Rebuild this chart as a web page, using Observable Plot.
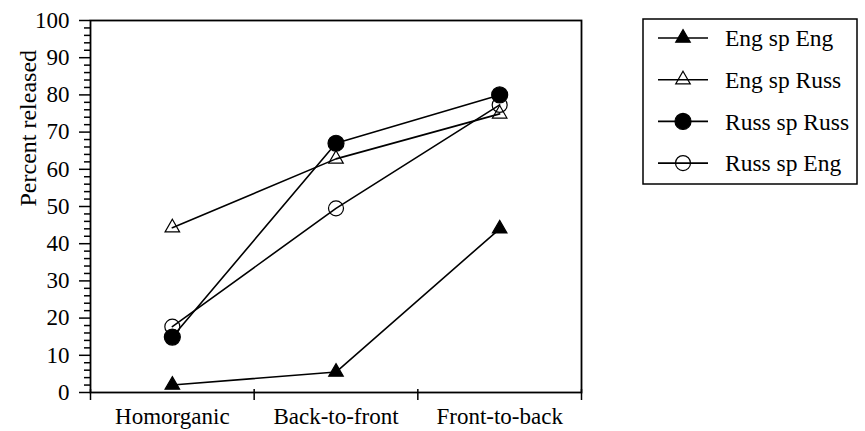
<!DOCTYPE html>
<html>
<head>
<meta charset="utf-8">
<script src="https://cdn.jsdelivr.net/npm/d3@7"></script>
<script src="https://cdn.jsdelivr.net/npm/@observablehq/plot@0.6"></script>
<style>
  body { margin: 0; background: #fff; }
  svg text { font-family: "Liberation Serif", "Times New Roman", serif; }
</style>
</head>
<body>
<div id="chartRoot"></div>
<script>
const categories = ["Homorganic", "Back-to-front", "Front-to-back"];
const seriesNames = ["Eng sp Eng", "Eng sp Russ", "Russ sp Russ", "Russ sp Eng"];
const engSpEng   = [2, 5.5, 44];
const engSpRuss  = [44.3, 62.8, 74.9];
const russSpRuss = [14.9, 67, 80];
const russSpEng  = [17.7, 49.5, 77.3];
const yTicks = [0, 10, 20, 30, 40, 50, 60, 70, 80, 90, 100];

(function () {
  const fontName = "Liberation Serif";
  const width = 865, height = 431, ml = 90, mr = 284, mt = 20, mb = 39;
  const fw = width - ml - mr, fh = height - mt - mb;

  const seriesValues = [engSpEng, engSpRuss, russSpRuss, russSpEng];
  const dataRows = [];
  seriesNames.forEach((s, si) => seriesValues[si].forEach((v, ci) => dataRows.push({series: s, cat: ci + 0.5, value: v})));

  const seriesLook = {
    "Eng sp Eng":   {symbol: "triangle", fill: "black", r: 5.4},
    "Eng sp Russ":  {symbol: "triangle", fill: "none",  r: 5.4},
    "Russ sp Russ": {symbol: "circle",   fill: "black", r: 8},
    "Russ sp Eng":  {symbol: "circle",   fill: "none",  r: 7.5}
  };

  const minorTicks = d3.range(0, 101, 2).filter(d => d % 10 !== 0);
  const plotMarks = [
    Plot.ruleY(minorTicks, {stroke: "black", strokeWidth: 1.5, insetLeft: -6, insetRight: fw}),
    Plot.ruleY(yTicks, {stroke: "black", strokeWidth: 1.5, insetLeft: -11, insetRight: fw}),
    Plot.ruleX([0, 1, 2, 3], {stroke: "black", strokeWidth: 1.5, insetTop: fh - 3, insetBottom: -8}),
    Plot.axisY({ticks: yTicks, tickSize: 0, tickPadding: 21, fontSize: 23, fontFamily: fontName, label: null}),
    Plot.axisX({ticks: categories.map((c, i) => i + 0.5), tickSize: 0, tickPadding: 15, fontSize: 23, fontFamily: fontName,
                 tickFormat: d => categories[Math.round(d - 0.5)], label: null}),
    Plot.frame({stroke: "black", strokeWidth: 1.8}),
    Plot.text(["Percent released"], {frameAnchor: "left", rotate: -90, dx: -62, fontSize: 24, fontFamily: fontName})
  ];
  for (const s of seriesNames) {
    const d = dataRows.filter(r => r.series === s);
    plotMarks.push(Plot.line(d, {x: "cat", y: "value", stroke: "black", strokeWidth: 1.6}));
  }
  for (const s of seriesNames) {
    const d = dataRows.filter(r => r.series === s);
    const st = seriesLook[s];
    plotMarks.push(Plot.dot(d, {x: "cat", y: "value", symbol: st.symbol, r: st.r,
      fill: st.fill, stroke: "black", strokeWidth: 1.2}));
  }

  const svgNode = Plot.plot({
    width, height,
    marginLeft: ml, marginRight: mr, marginTop: mt, marginBottom: mb,
    style: {fontFamily: "'Liberation Serif'"},
    x: {domain: [0, 3], axis: null},
    y: {domain: [0, 100], axis: null},
    marks: plotMarks
  });
  document.getElementById("chartRoot").appendChild(svgNode);

  // Legend inside the same SVG
  const lg = d3.select(svgNode).append("g");
  lg.append("rect").attr("x", 643).attr("y", 19).attr("width", 214).attr("height", 165)
    .attr("fill", "none").attr("stroke", "black").attr("stroke-width", 1.5);
  seriesNames.forEach((s, i) => {
    const y = 38 + i * 41.7;
    const st = seriesLook[s];
    const g = lg.append("g");
    g.append("line").attr("x1", 658).attr("x2", 708).attr("y1", y).attr("y2", y)
      .attr("stroke", "black").attr("stroke-width", 1.6);
    const sym = d3.symbol(st.symbol === "triangle" ? d3.symbolTriangle : d3.symbolCircle, st.r * st.r * Math.PI);
    g.append("path").attr("d", sym()).attr("transform", `translate(683,${y})`)
      .attr("fill", st.fill).attr("stroke", "black").attr("stroke-width", 1.2);
    g.append("text").attr("x", 725).attr("y", y).attr("dy", "0.35em").attr("text-anchor", "start")
      .attr("fill", "black").attr("font-size", 23.5).text(s);
  });

  // Put stroke and font directly on each element, so that nothing depends on inheritance
  const root = d3.select(svgNode);
  root.selectAll("g[aria-label=rule] line")
    .attr("stroke", "black").attr("stroke-width", 1.5);
  root.selectAll("text")
    .attr("font-family", fontName)
    .style("font-family", "'Liberation Serif', serif");
})();
</script>
</body>
</html>
